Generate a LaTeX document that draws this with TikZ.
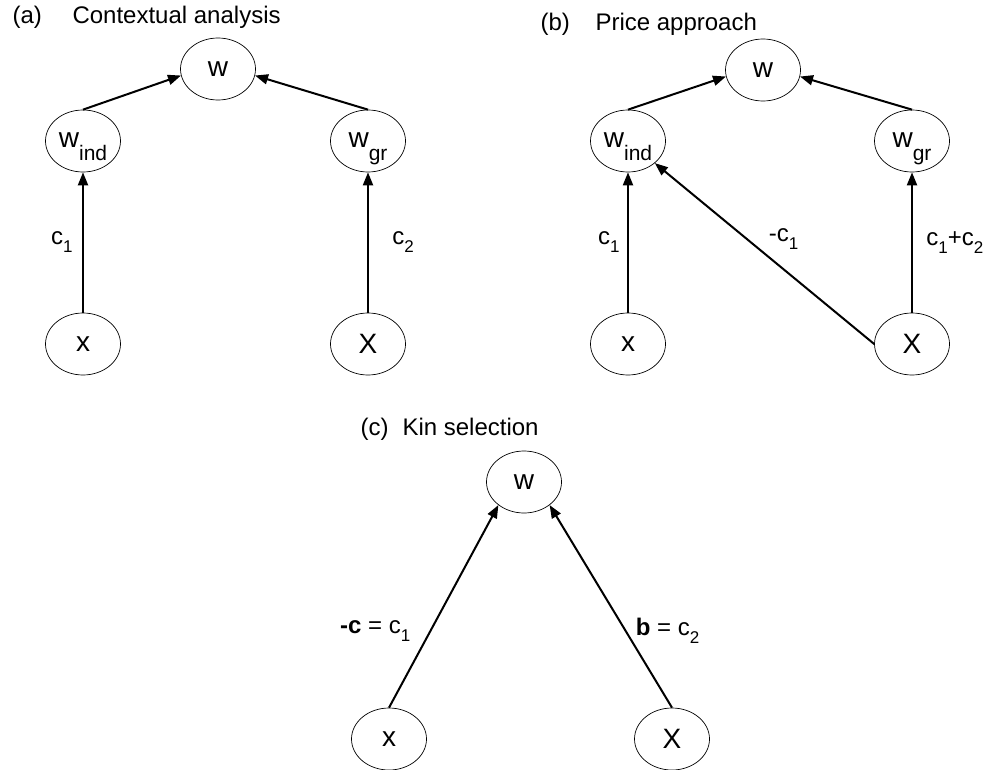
\documentclass[tikz,border=0pt]{standalone}
\usepackage{fontspec}
\setmainfont{Liberation Sans}
\usetikzlibrary{shapes.geometric,arrows.meta}
\newcommand{\lowsub}[1]{\raisebox{-8pt}{\fontsize{17}{17}\selectfont #1}}
\newcommand{\nodesub}[1]{\raisebox{-13pt}{\fontsize{21}{21}\selectfont #1}}
\tikzset{
  var/.style={draw,ellipse,line width=0.7pt,minimum width=75pt,minimum height=62pt,inner sep=0pt,font=\fontsize{28}{28}\selectfont},
  subvar/.style={var,text depth=2pt},
  link/.style={line width=2pt,-{Triangle[length=13pt,width=10pt]}},
  lbl/.style={font=\fontsize{24}{24}\selectfont}
}
\begin{document}
\begin{tikzpicture}[x=1pt,y=-1pt]
\useasboundingbox (0,0) rectangle (987,770);
% (a) contextual analysis
\node[lbl,anchor=base west] (laba) at (9,24) {(a)};
\node[lbl,anchor=base west] (tita) at (69,24) {Contextual analysis};
\node[var] (wa) at (218,69) {w};
\node[subvar] (winda) at (83,141) {w\nodesub{ind}};
\node[subvar] (wgra) at (368,141) {w\nodesub{gr}};
\node[var] (xa) at (83,344) {x};
\node[var] (bigxa) at (368,344) {X};
\draw[link] (winda.north) -- (wa.190);
\draw[link] (wgra.north) -- (wa.-10);
\draw[link] (xa) -- node[lbl,left=6pt] {c\lowsub{1}} (winda);
\draw[link] (bigxa) -- node[lbl,right=20pt] {c\lowsub{2}} (wgra);
% (b) price approach
\node[lbl,anchor=base west] (labb) at (537,31) {(b)};
\node[lbl,anchor=base west] (titb) at (592,31) {Price approach};
\node[var] (wb) at (763,70) {w};
\node[subvar] (windb) at (628,141) {w\nodesub{ind}};
\node[subvar] (wgrb) at (912,141) {w\nodesub{gr}};
\node[var] (xb) at (628,344) {x};
\node[var] (bigxb) at (912,344) {X};
\draw[link] (windb.north) -- (wb.190);
\draw[link] (wgrb.north) -- (wb.-10);
\draw[link] (xb) -- node[lbl,left=4pt] {c\lowsub{1}} (windb);
\draw[link] (bigxb.west) -- node[lbl,pos=0.5,above right] {-c\lowsub{1}} (windb);
\draw[link] (bigxb) -- node[lbl,right=10pt] {c\lowsub{1}+c\lowsub{2}} (wgrb);
% (c) kin selection
\node[lbl,anchor=base west] (labc) at (357,435) {(c)};
\node[lbl,anchor=base west] (titc) at (399,435) {Kin selection};
\node[var] (wc) at (524,482) {w};
\node[var] (xc) at (389,739) {x};
\node[var] (bigxc) at (672,739) {X};
\draw[link] (xc.north) -- node[lbl,pos=0.38,left=16pt] {\textbf{-c} = c\lowsub{1}} (wc.-138);
\draw[link] (bigxc.north) -- node[lbl,pos=0.38,right=6pt] {\textbf{b} = c\lowsub{2}} (wc.-42);
\end{tikzpicture}
\end{document}
